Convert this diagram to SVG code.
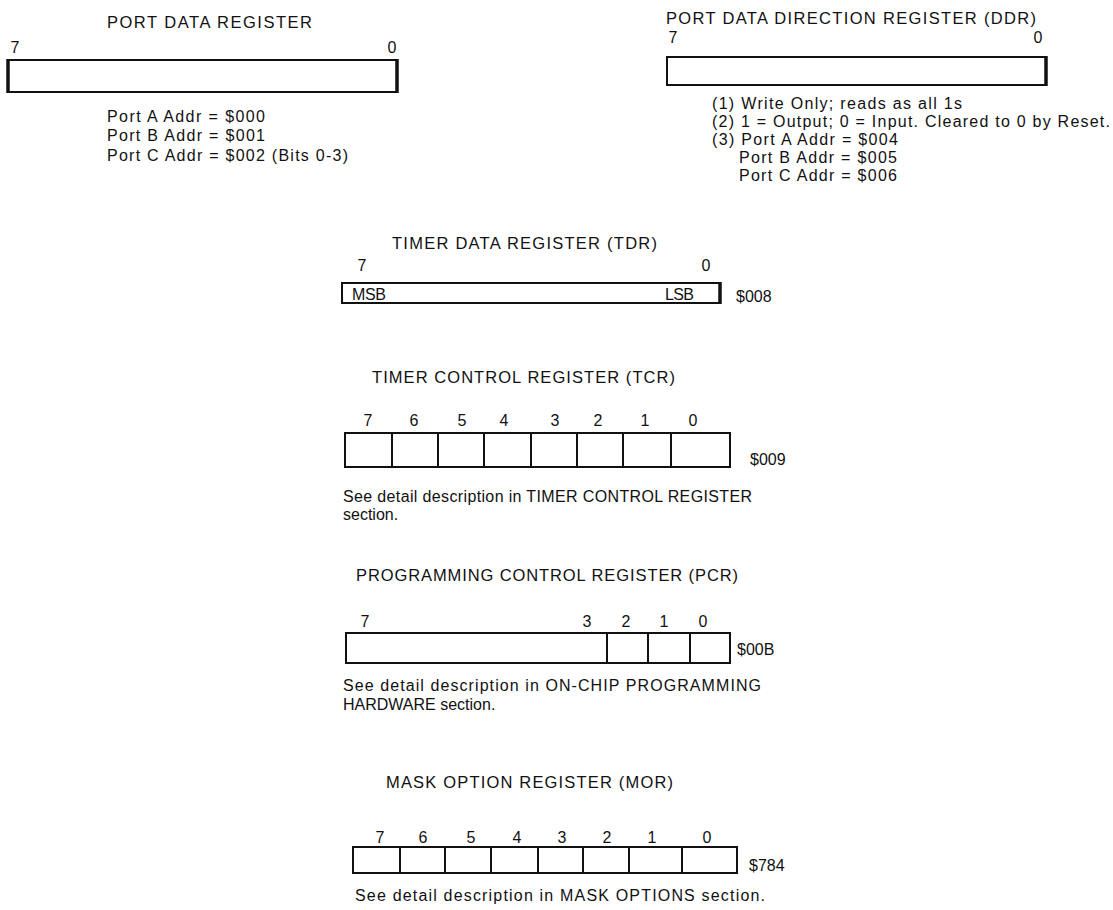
<svg xmlns="http://www.w3.org/2000/svg" width="1113" height="910" viewBox="0 0 1113 910">
<style>
text { font-family: "Liberation Sans", Arial, Helvetica, sans-serif; fill: #111; }
.t { font-size: 16.5px; }
.b { font-size: 16px; }
.n { font-size: 16px; text-anchor: middle; }
.box { fill: none; stroke: #111; stroke-width: 2; }
.edge { stroke: #111; stroke-width: 3.5; }
.div { stroke: #111; stroke-width: 2; }
</style>
<rect width="1113" height="910" fill="#fff"/>

<g id="pdr">
  <text class="t" x="107" y="28" textLength="205" lengthAdjust="spacing">PORT DATA REGISTER</text>
  <text class="n" x="15" y="53">7</text>
  <text class="n" x="392" y="53">0</text>
  <rect class="box" x="8" y="60" width="389" height="32"/>
  <line class="edge" x1="8" y1="59" x2="8" y2="93"/>
  <line class="edge" x1="397" y1="59" x2="397" y2="93"/>
  <text class="b" x="107" y="122" textLength="158" lengthAdjust="spacing">Port A Addr = $000</text>
  <text class="b" x="107" y="141" textLength="158" lengthAdjust="spacing">Port B Addr = $001</text>
  <text class="b" x="107" y="161" textLength="241" lengthAdjust="spacing">Port C Addr = $002 (Bits 0-3)</text>
</g>

<g id="ddr">
  <text class="t" x="666" y="24" textLength="370" lengthAdjust="spacing">PORT DATA DIRECTION REGISTER (DDR)</text>
  <text class="n" x="673" y="43">7</text>
  <text class="n" x="1038" y="43">0</text>
  <rect class="box" x="667" y="57" width="379" height="28"/>
  <line class="edge" x1="1046" y1="56" x2="1046" y2="86"/>
  <text class="b" x="712" y="109" textLength="250" lengthAdjust="spacing">(1) Write Only; reads as all 1s</text>
  <text class="b" x="712" y="127" textLength="398" lengthAdjust="spacing">(2) 1 = Output; 0 = Input. Cleared to 0 by Reset.</text>
  <text class="b" x="712" y="145" textLength="186" lengthAdjust="spacing">(3) Port A Addr = $004</text>
  <text class="b" x="739" y="163" textLength="158" lengthAdjust="spacing">Port B Addr = $005</text>
  <text class="b" x="739" y="181" textLength="158" lengthAdjust="spacing">Port C Addr = $006</text>
</g>

<g id="tdr">
  <text class="t" x="392" y="249" textLength="265" lengthAdjust="spacing">TIMER DATA REGISTER (TDR)</text>
  <text class="n" x="362" y="271">7</text>
  <text class="n" x="706" y="271">0</text>
  <rect class="box" x="342" y="283" width="378" height="20"/>
  <line class="edge" x1="720" y1="282" x2="720" y2="304"/>
  <text class="b" x="352" y="300" textLength="34" lengthAdjust="spacing">MSB</text>
  <text class="b" x="665" y="300" textLength="29" lengthAdjust="spacing">LSB</text>
  <text class="b" x="736" y="302">$008</text>
</g>

<g id="tcr">
  <text class="t" x="372" y="383" textLength="303" lengthAdjust="spacing">TIMER CONTROL REGISTER (TCR)</text>
  <text class="n" x="368" y="426">7</text>
  <text class="n" x="414" y="426">6</text>
  <text class="n" x="462" y="426">5</text>
  <text class="n" x="504" y="426">4</text>
  <text class="n" x="555" y="426">3</text>
  <text class="n" x="598" y="426">2</text>
  <text class="n" x="645" y="426">1</text>
  <text class="n" x="693" y="426">0</text>
  <rect class="box" x="345" y="433" width="385" height="34"/>
  <line class="div" x1="392" y1="433" x2="392" y2="467"/>
  <line class="div" x1="438" y1="433" x2="438" y2="467"/>
  <line class="div" x1="484" y1="433" x2="484" y2="467"/>
  <line class="div" x1="531" y1="433" x2="531" y2="467"/>
  <line class="div" x1="577" y1="433" x2="577" y2="467"/>
  <line class="div" x1="623" y1="433" x2="623" y2="467"/>
  <line class="div" x1="671" y1="433" x2="671" y2="467"/>
  <text class="b" x="750" y="465">$009</text>
  <text class="b" x="343" y="502" textLength="409" lengthAdjust="spacing">See detail description in TIMER CONTROL REGISTER</text>
  <text class="b" x="343" y="520">section.</text>
</g>

<g id="pcr">
  <text class="t" x="356" y="581" textLength="382" lengthAdjust="spacing">PROGRAMMING CONTROL REGISTER (PCR)</text>
  <text class="n" x="365" y="627">7</text>
  <text class="n" x="587" y="627">3</text>
  <text class="n" x="626" y="627">2</text>
  <text class="n" x="664" y="627">1</text>
  <text class="n" x="703" y="627">0</text>
  <rect class="box" x="346" y="633" width="384" height="30"/>
  <line class="div" x1="607" y1="633" x2="607" y2="663"/>
  <line class="div" x1="648" y1="633" x2="648" y2="663"/>
  <line class="div" x1="690" y1="633" x2="690" y2="663"/>
  <text class="b" x="737" y="655">$00B</text>
  <text class="b" x="343" y="691" textLength="418" lengthAdjust="spacing">See detail description in ON-CHIP PROGRAMMING</text>
  <text class="b" x="343" y="710">HARDWARE section.</text>
</g>

<g id="mor">
  <text class="t" x="386" y="788" textLength="287" lengthAdjust="spacing">MASK OPTION REGISTER (MOR)</text>
  <text class="n" x="380" y="843">7</text>
  <text class="n" x="423" y="843">6</text>
  <text class="n" x="471" y="843">5</text>
  <text class="n" x="517" y="843">4</text>
  <text class="n" x="562" y="843">3</text>
  <text class="n" x="607" y="843">2</text>
  <text class="n" x="652" y="843">1</text>
  <text class="n" x="707" y="843">0</text>
  <rect class="box" x="353" y="847" width="384" height="26"/>
  <line class="div" x1="400" y1="847" x2="400" y2="873"/>
  <line class="div" x1="445" y1="847" x2="445" y2="873"/>
  <line class="div" x1="491" y1="847" x2="491" y2="873"/>
  <line class="div" x1="538" y1="847" x2="538" y2="873"/>
  <line class="div" x1="583" y1="847" x2="583" y2="873"/>
  <line class="div" x1="629" y1="847" x2="629" y2="873"/>
  <line class="div" x1="682" y1="847" x2="682" y2="873"/>
  <text class="b" x="749" y="871">$784</text>
  <text class="b" x="355" y="901" textLength="410" lengthAdjust="spacing">See detail description in MASK OPTIONS section.</text>
</g>

<g id="connectors"></g>
</svg>
